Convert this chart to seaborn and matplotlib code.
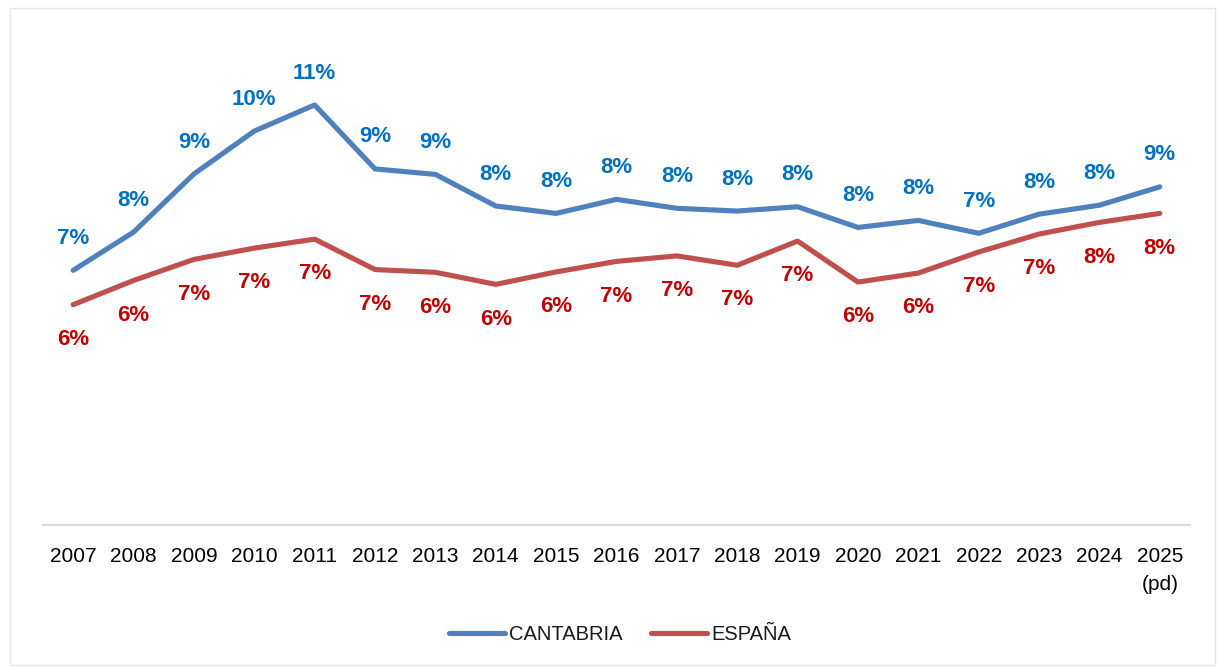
import matplotlib
matplotlib.use("Agg")
import matplotlib.pyplot as plt
import seaborn as sns
import pandas as pd

years = ["2007", "2008", "2009", "2010", "2011", "2012", "2013", "2014", "2015", "2016",
         "2017", "2018", "2019", "2020", "2021", "2022", "2023", "2024", "2025\n(pd)"]
cantabria = [6.53, 7.51, 9.00, 10.10, 10.77, 9.13, 8.99, 8.18, 7.99, 8.35,
             8.12, 8.05, 8.16, 7.63, 7.81, 7.48, 7.97, 8.20, 8.67]
espana = [5.65, 6.27, 6.81, 7.10, 7.33, 6.55, 6.48, 6.17, 6.49, 6.76,
          6.90, 6.66, 7.28, 6.23, 6.46, 7.00, 7.46, 7.76, 7.99]

sns.set_theme(style="white")
plt.rcParams['font.family'] = ['Liberation Sans', 'DejaVu Sans']

df = pd.DataFrame({
    "year": list(range(len(years))) * 2,
    "value": cantabria + espana,
    "serie": ["CANTABRIA"] * len(years) + ["ESPAÑA"] * len(years),
})

fig = plt.figure(figsize=(12.25, 6.68), dpi=100)
ax = fig.add_axes([0.0351, 0.214, 0.9363, 0.7007])

line_colors = {"CANTABRIA": "#4F81BD", "ESPAÑA": "#C0504D"}
sns.lineplot(data=df, x="year", y="value", hue="serie", palette=line_colors,
             linewidth=3.7, ax=ax, legend=False)

# data labels: Cantabria above, España below
for i, v in enumerate(cantabria):
    ax.annotate(f"{v:.0f}%", (i, v), xytext=(0, 23), textcoords="offset points",
                ha="center", va="center", color="#0070C0", fontsize=16, fontweight="bold")
for i, v in enumerate(espana):
    ax.annotate(f"{v:.0f}%", (i, v), xytext=(0, -25), textcoords="offset points",
                ha="center", va="center", color="#C00000", fontsize=16, fontweight="bold")

ax.set_xlim(-0.5, len(years) - 0.5)
ax.set_ylim(0, 12)
ax.set_xticks(range(len(years)))
ax.set_xticklabels(years, fontsize=15, color="#000000", va="top", linespacing=1.55)
ax.set_yticks([])
ax.set_xlabel("")
ax.set_ylabel("")
ax.tick_params(axis="x", length=0, pad=16)
for s in ["top", "left", "right"]:
    ax.spines[s].set_visible(False)
ax.spines["bottom"].set_color("#D9D9D9")
ax.spines["bottom"].set_linewidth(1.5)

handles = [plt.Line2D([], [], color=line_colors[k], linewidth=3.7) for k in line_colors]
fig.legend(handles, list(line_colors), loc="center", bbox_to_anchor=(0.506, 0.05),
           ncol=2, frameon=False, fontsize=14.5, handlelength=2.8, handletextpad=0.2,
           columnspacing=1.4, labelcolor="#1A1A1A")

# light frame around the chart area
fig.patches.append(plt.Rectangle((0.008, 0.004), 0.984, 0.984, transform=fig.transFigure,
                                 fill=False, edgecolor="#E6E6E6", linewidth=1))

fig.savefig("out.png", dpi=100)
